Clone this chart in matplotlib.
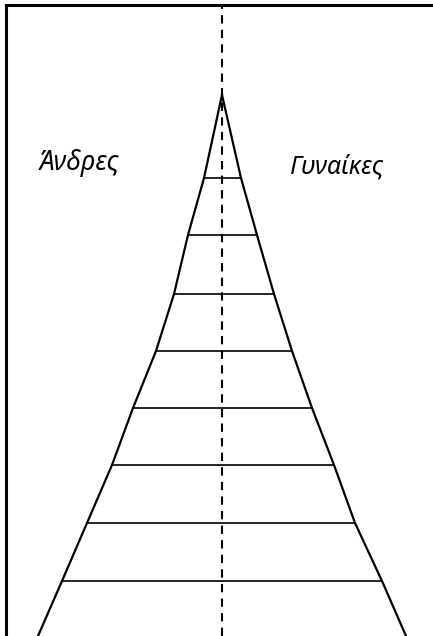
import matplotlib.pyplot as plt
import numpy as np

# heights of the levels above the bottom edge (apex first)
levels = [541, 458, 401, 342, 285, 228, 171, 113, 55, 0]
# half widths of the pyramid at each level
men_width = [0, 18, 34, 48, 66, 89, 110, 135, 160, 184]
women_width = [0, 19, 35, 52, 70, 90, 112, 133, 160, 184]
labels = ["Άνδρες", "Γυναίκες"]

levels = np.array(levels)
men_x = -np.array(men_width)
women_x = np.array(women_width)

fig = plt.figure(figsize=(4.33, 6.36), dpi=100)
ax = fig.add_axes([0, 0, 1, 1])
ax.set_xlim(-222, 211)
ax.set_ylim(0, 636)
ax.axis('off')

# frame (top and left only)
ax.plot([-216, 211], [631, 631], color='black', lw=2.2)
ax.plot([-216, -216], [0, 631], color='black', lw=2.2)

# centre line
ax.plot([0, 0], [0, 631], color='black', lw=1.5, ls=(0, (4, 3)))

# sides of the pyramid
ax.plot(men_x, levels, color='black', lw=1.6)
ax.plot(women_x, levels, color='black', lw=1.6)

# age bands
for lv, l, r in zip(levels[1:-1], men_x[1:-1], women_x[1:-1]):
    ax.plot([l, r], [lv, lv], color='black', lw=1.2)

ax.text(-143, 466, labels[0], fontsize=19, style='italic', family='Noto Sans',
        ha='center', va='baseline')
ax.text(115, 462, labels[1], fontsize=18, style='italic', family='Noto Sans',
        ha='center', va='baseline')

plt.savefig('out.png', dpi=100)
